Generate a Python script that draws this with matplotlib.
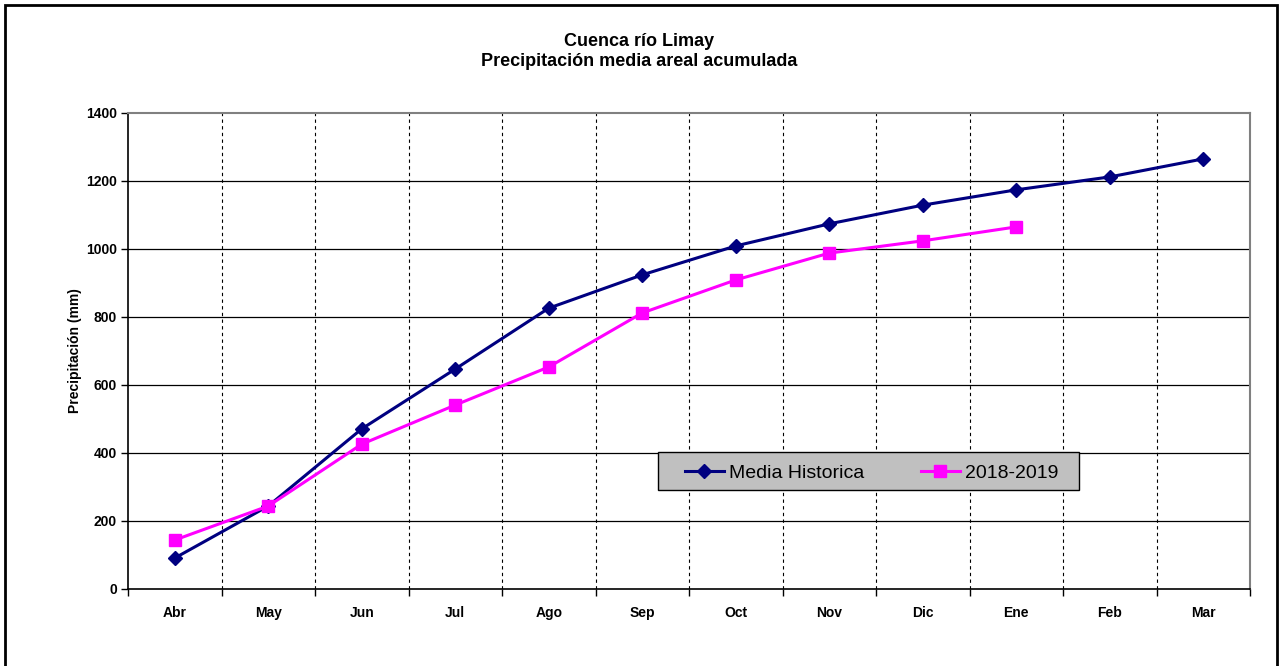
import matplotlib
matplotlib.use("Agg")
import matplotlib.pyplot as plt
from matplotlib.patches import Rectangle
import numpy as np

plt.rcParams['font.family'] = ['Liberation Sans', 'DejaVu Sans']

months = ["Abr", "May", "Jun", "Jul", "Ago", "Sep", "Oct", "Nov", "Dic", "Ene", "Feb", "Mar"]
media_historica = [91, 244, 471, 647, 826, 924, 1009, 1074, 1129, 1174, 1212, 1265]
temporada_2018_2019 = [144, 244, 426, 541, 653, 812, 909, 988, 1024, 1065]
yticks = [0, 200, 400, 600, 800, 1000, 1200, 1400]

fig = plt.figure(figsize=(12.79, 6.66), dpi=100)
ax = fig.add_axes([128/1279, 1-589/666, (1250-128)/1279, (589-113)/666])

x_all = np.arange(len(months))
ax.plot(x_all, media_historica, color='#000080', lw=2.2, marker='D', markersize=7.5,
        label='Media Historica', zorder=4)
ax.plot(x_all[:len(temporada_2018_2019)], temporada_2018_2019, color='#FF00FF', lw=2.2,
        marker='s', markersize=8.5, label='2018-2019', zorder=4)

ax.set_xlim(-0.5, len(months) - 0.5)
ax.set_ylim(0, 1400)
ax.set_yticks(yticks)
ax.set_yticklabels([str(v) for v in yticks], fontsize=10, fontweight='bold')
ax.set_xticks(x_all)
ax.set_xticklabels(months, fontsize=10, fontweight='bold')
ax.tick_params(axis='x', which='major', length=0, pad=12)
ax.set_xticks(np.arange(-0.5, len(months) + 0.5, 1), minor=True)
ax.tick_params(axis='x', which='minor', length=5, width=1, direction='out')
ax.tick_params(axis='y', length=5, width=1, direction='out', pad=3)

for v in yticks[1:-1]:
    ax.axhline(v, color='black', lw=0.9, zorder=1)
for b in np.arange(0.5, len(months) - 0.5, 1):
    ax.axvline(b, color='black', lw=0.8, linestyle=(0, (3, 3)), zorder=1)

ax.spines['top'].set_color('#808080')
ax.spines['right'].set_color('#808080')
ax.spines['top'].set_linewidth(1.5)
ax.spines['right'].set_linewidth(1.5)
ax.spines['left'].set_linewidth(1.2)
ax.spines['bottom'].set_linewidth(1.2)

ax.set_ylabel('Precipitación (mm)', fontsize=10, fontweight='bold', labelpad=3)

# legend box
ax.add_patch(Rectangle((0.4724, 0.208), 0.3752, 0.0798, transform=ax.transAxes,
                       facecolor='#C0C0C0', edgecolor='black', lw=1.0, zorder=5))
leg = ax.legend(loc='center left', bbox_to_anchor=(0.4964, 0.2437), ncol=2, fontsize=14,
                frameon=False, borderpad=0, borderaxespad=0,
                handlelength=2.0, handletextpad=0.27, columnspacing=2.9)
leg.set_zorder(6)

fig.text(0.5, 1-41/666, 'Cuenca río Limay', ha='center', va='center', fontsize=13, fontweight='bold')
fig.text(0.5, 1-61/666, 'Precipitación media areal acumulada', ha='center', va='center',
         fontsize=13, fontweight='bold')

fig.patches.append(Rectangle((5/1279, -0.05), (1277-5)/1279, 1.05 - 5/666, transform=fig.transFigure,
                             fill=False, edgecolor='black', lw=2))

fig.savefig('out.png', dpi=100)
